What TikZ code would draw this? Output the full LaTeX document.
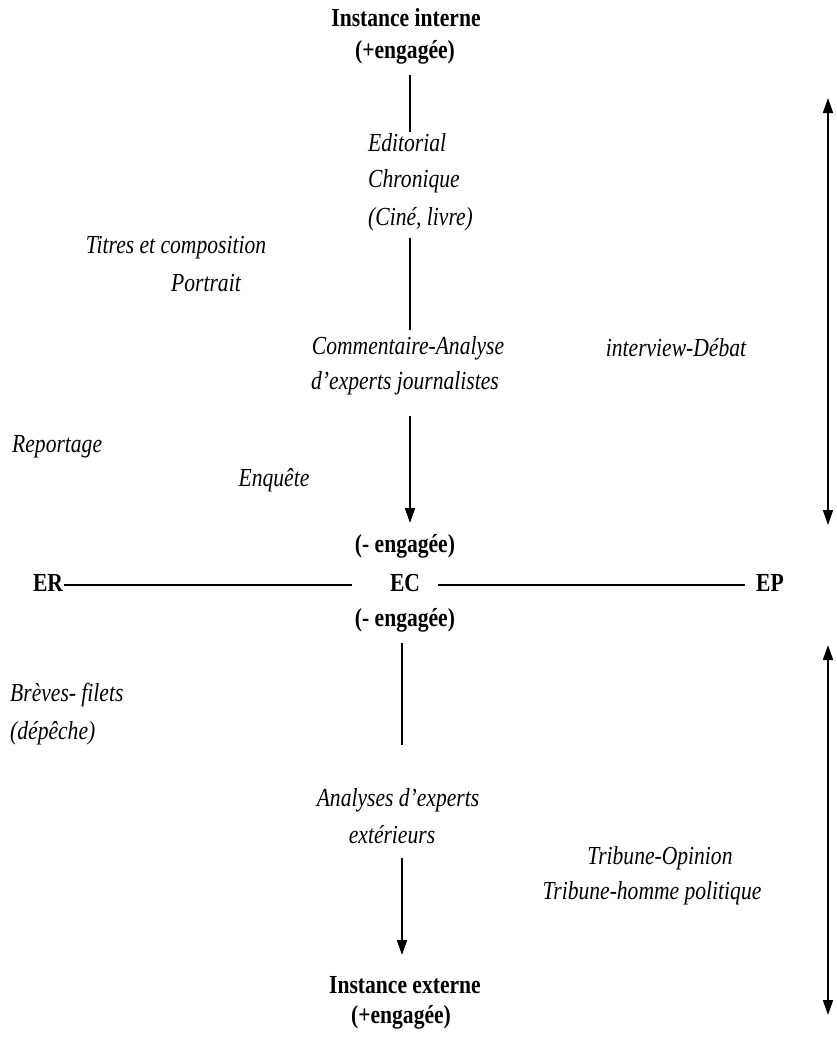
\documentclass[tikz,border=0pt]{standalone}
\usepackage{fontspec}
\setmainfont{Liberation Serif}[FakeStretch=0.83]
\usetikzlibrary{arrows.meta}
\begin{document}
\begin{tikzpicture}[x=1pt,y=-1pt,
  lbl/.style={inner sep=0pt,font=\fontsize{26}{30}\selectfont\itshape},
  hd/.style={inner sep=0pt,font=\fontsize{26}{30}\selectfont\bfseries},
  thinline/.style={line width=1.3pt},
  axisline/.style={line width=1.6pt},
  arr/.style={line width=1.8pt,-{Triangle[length=15pt,width=10pt]}},
  darr/.style={line width=1.8pt,{Triangle[length=15pt,width=10pt]}-{Triangle[length=15pt,width=10pt]}}]
\useasboundingbox (0,0) rectangle (837,1037);

% top part
\node[hd] (instA) at (406,18) {Instance interne};
\node[hd] (plusA) at (405,52) {(+engagée)};
\node[lbl,anchor=west] (ed1) at (368,143) {Editorial};
\node[lbl,anchor=west] (ed2) at (368,181) {Chronique};
\node[lbl,anchor=west] (ed3) at (368,219) {(Ciné, livre)};
\node[lbl] (com1) at (408,348) {Commentaire-Analyse};
\node[lbl] (com2) at (405,383) {d’experts journalistes};
\node[lbl] (tit1) at (176,248) {Titres et composition};
\node[lbl] (tit2) at (206,283) {Portrait};
\node[lbl] (inter) at (676,348) {interview-Débat};
\node[lbl,anchor=west] (rep) at (12,447) {Reportage};
\node[lbl] (enq) at (274,480) {Enquête};

\coordinate (l1a) at (410,75);
\coordinate (l1b) at (410,132);
\draw[thinline] (l1a) -- (l1b);
\coordinate (l2a) at (410,238);
\coordinate (l2b) at (410,330);
\draw[thinline] (l2a) -- (l2b);
\coordinate (a1a) at (410,416);
\coordinate (a1b) at (410,523);
\draw[arr] (a1a) -- (a1b);

% centre axis
\node[hd] (minA) at (405,546) {(- engagée)};
\node[hd] (ER) at (48,583) {ER};
\node[hd] (EC) at (405,583) {EC};
\node[hd] (EP) at (770,583) {EP};
\node[hd] (minB) at (405,620) {(- engagée)};
\coordinate (erR) at (64,585);
\coordinate (ecL) at (352,585);
\coordinate (ecR) at (438,585);
\coordinate (epL) at (745,585);
\draw[axisline] (erR) -- (ecL);
\draw[axisline] (ecR) -- (epL);

% bottom part
\coordinate (l3a) at (402,643);
\coordinate (l3b) at (402,745);
\draw[thinline] (l3a) -- (l3b);
\node[lbl,anchor=west] (br1) at (10,695) {Brèves- filets};
\node[lbl,anchor=west] (br2) at (10,733) {(dépêche)};
\node[lbl] (an1) at (398,800) {Analyses d’experts};
\node[lbl] (an2) at (392,835) {extérieurs};
\coordinate (a2a) at (402,858);
\coordinate (a2b) at (402,955);
\draw[arr] (a2a) -- (a2b);
\node[lbl] (tr1) at (660,858) {Tribune-Opinion};
\node[lbl] (tr2) at (652,893) {Tribune-homme politique};
\node[hd] (instB) at (405,985) {Instance externe};
\node[hd] (plusB) at (401,1017) {(+engagée)};

% right double arrows
\coordinate (d1a) at (828,98);
\coordinate (d1b) at (828,525);
\draw[darr] (d1a) -- (d1b);
\coordinate (d2a) at (828,645);
\coordinate (d2b) at (828,1015);
\draw[darr] (d2a) -- (d2b);
\end{tikzpicture}
\end{document}
